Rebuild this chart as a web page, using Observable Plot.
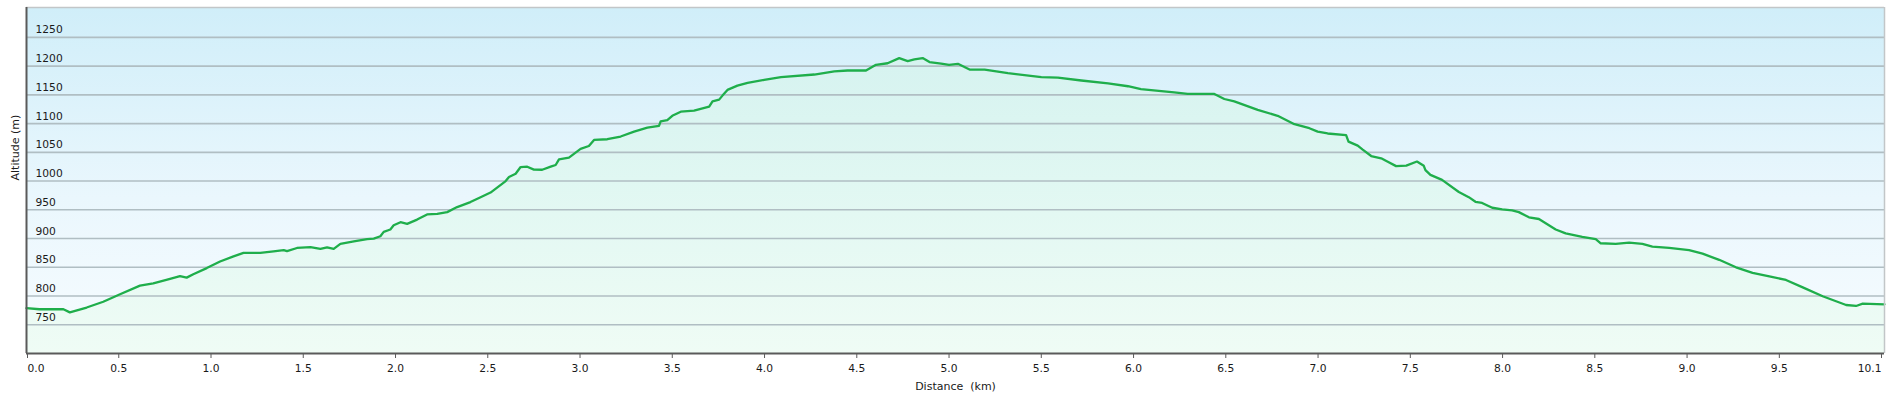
<!DOCTYPE html>
<html>
<head>
<meta charset="utf-8">
<script src="https://cdn.jsdelivr.net/npm/d3@7"></script>
<script src="https://cdn.jsdelivr.net/npm/@observablehq/plot@0.6"></script>
<style>
  html, body { margin: 0; padding: 0; background: #fff; }
  svg { display: block; background: linear-gradient(#f4f4f4 0 3px, #ffffff 3px); }
  svg text { white-space: pre; }
</style>
</head>
<body>
<div id="chart"></div>
<script>
const distanceKm = [
  0.0, 0.07, 0.2, 0.235, 0.326, 0.416, 0.507, 0.615, 0.687, 0.778, 0.832, 0.868, 0.904, 0.977,
  1.049, 1.122, 1.176, 1.267, 1.339, 1.394, 1.412, 1.466, 1.539, 1.593, 1.629, 1.665, 1.701,
  1.774, 1.846, 1.882, 1.918, 1.936, 1.972, 1.99, 2.027, 2.063, 2.117, 2.171, 2.226, 2.28,
  2.334, 2.406, 2.461, 2.515, 2.597, 2.615, 2.651, 2.678, 2.714, 2.75, 2.795, 2.841, 2.868,
  2.886, 2.94, 3.003, 3.048, 3.076, 3.148, 3.22, 3.293, 3.365, 3.428, 3.437, 3.473, 3.5,
  3.546, 3.618, 3.7, 3.718, 3.754, 3.772, 3.799, 3.853, 3.908, 3.998, 4.089, 4.27, 4.378,
  4.45, 4.55, 4.604, 4.667, 4.73, 4.776, 4.812, 4.857, 4.894, 4.957, 5.0, 5.048, 5.111,
  5.193, 5.319, 5.5, 5.59, 5.717, 5.862, 5.97, 6.04, 6.22, 6.293, 6.438, 6.492, 6.546,
  6.673, 6.781, 6.872, 6.953, 6.998, 7.052, 7.152, 7.165, 7.215, 7.242, 7.288, 7.342,
  7.378, 7.423, 7.478, 7.536, 7.573, 7.582, 7.609, 7.672, 7.763, 7.817, 7.853, 7.889,
  7.944, 7.998, 8.052, 8.088, 8.143, 8.197, 8.288, 8.342, 8.432, 8.505, 8.532, 8.613,
  8.686, 8.758, 8.812, 8.903, 9.011, 9.084, 9.174, 9.265, 9.355, 9.446, 9.536, 9.627,
  9.735, 9.862, 9.916, 9.952, 10.07
];
const altitudeM = [
  779, 777, 777, 771.6, 780, 790, 803, 818, 822, 830, 834.6, 832, 838, 848.6,
  860, 869, 875, 875, 877.8, 880, 878, 883.6, 885, 882, 884.8, 882, 890.6,
  895, 899, 900, 904, 911.6, 915.7, 923, 928.5, 925.6, 933, 942, 943, 946,
  954.8, 963.5, 972, 980, 1000, 1007, 1012.7, 1024.4, 1025, 1020, 1019.7, 1025, 1028,
  1037.8, 1040.7, 1056, 1061, 1071.6, 1072.8, 1077.5, 1086, 1093, 1096, 1104, 1106, 1113.6,
  1120.7, 1122.4, 1129.4, 1138.7, 1141.7, 1148.7, 1158.6, 1166, 1170.8, 1176, 1180.7, 1185.4, 1190.7,
  1192.4, 1192.4, 1202.3, 1205, 1214, 1208.8, 1211.7, 1214, 1207, 1204.5, 1202, 1204, 1194,
  1194, 1188, 1180.7, 1180, 1175, 1170, 1165, 1160, 1154.5, 1151.6, 1151.6, 1142.8, 1138.7,
  1124, 1113.6, 1099, 1092, 1086, 1082.8, 1080, 1068.7, 1061.7, 1054.7, 1043.6, 1039.6,
  1033.7, 1026, 1027, 1034, 1026.5, 1019, 1010.8, 1002, 981, 972, 964, 962,
  953.6, 950.7, 949, 946, 937, 934, 915.7, 909, 903, 899, 891.8, 890.6,
  893, 890.6, 886, 883.6, 880, 873.7, 863, 850, 840.4, 834, 828, 815,
  799.6, 784.4, 782.7, 786.8, 785.6
];
const yTicks = [750, 800, 850, 900, 950, 1000, 1050, 1100, 1150, 1200, 1250];
const xTicksMid = [0.5, 1.0, 1.5, 2.0, 2.5, 3.0, 3.5, 4.0, 4.5, 5.0, 5.5, 6.0, 6.5, 7.0, 7.5, 8.0, 8.5, 9.0, 9.5];
const xTickStart = [0.0];
const xTickEnd = [10.07];
const xLabel = "Distance  (km)";
const yLabel = "Altitude (m)";

const profile = distanceKm.map((d, i) => ({d, a: altitudeM[i]}));
const fmt = d => d.toFixed(1);
const font = "DejaVu Sans, Verdana, sans-serif";
const axisColor = "#5a5a5a";

const chart = Plot.plot({
  width: 1889,
  height: 395,
  marginTop: 7,
  marginBottom: 42,
  marginLeft: 26,
  marginRight: 5,
  style: {fontFamily: font, fontSize: "10.7px", color: "#1a1a1a", background: "transparent", overflow: "visible"},
  x: {domain: [0, 10.07], axis: null},
  y: {domain: [700, 1302], axis: null},
  marks: [
    Plot.frame({fill: "url(#bgGrad)", stroke: null}),
    Plot.areaY(profile, {x: "d", y1: 700, y2: "a", fill: "url(#areaGrad)"}),
    Plot.ruleY(yTicks, {stroke: "#b0bec3", strokeWidth: 1.6}),
    Plot.text(yTicks, {y: d => d, text: d => String(d), frameAnchor: "left", textAnchor: "start", lineAnchor: "bottom", dx: 9, dy: -4, fill: "#1a1a1a"}),
    Plot.lineY(profile, {x: "d", y: "a", stroke: "#1fae4b", strokeWidth: 2.3, strokeLinejoin: "round"}),
    Plot.ruleY([1302], {stroke: "#c2c6c8", strokeWidth: 1.5}),
    Plot.ruleX([10.07], {stroke: "#c2c6c8", strokeWidth: 1.5}),
    Plot.ruleX([0], {stroke: axisColor, strokeWidth: 2}),
    Plot.ruleY([700], {stroke: axisColor, strokeWidth: 2}),
    Plot.axisX({ticks: xTicksMid, tickFormat: fmt, tickSize: 5, tickPadding: 6, stroke: axisColor, fill: "#1a1a1a", label: null}),
    Plot.axisX({ticks: xTickStart, tickFormat: fmt, tickSize: 5, tickPadding: 6, stroke: axisColor, fill: "#1a1a1a", textAnchor: "start", dx: 1, label: null}),
    Plot.axisX({ticks: xTickEnd, tickFormat: fmt, tickSize: 5, tickPadding: 6, stroke: axisColor, fill: "#1a1a1a", textAnchor: "end", dx: -3, label: null}),
    Plot.text([xLabel], {frameAnchor: "bottom", dy: 32.5, lineAnchor: "middle", fill: "#1a1a1a", fontSize: 11}),
    Plot.text([yLabel], {frameAnchor: "left", rotate: -90, dx: -11, lineAnchor: "middle", fill: "#1a1a1a", fontSize: 11})
  ]
});

const ns = "http://www.w3.org/2000/svg";
const defs = document.createElementNS(ns, "defs");
defs.innerHTML = `<linearGradient id="bgGrad" x1="0" y1="0" x2="0" y2="1">
  <stop offset="0" stop-color="#d0eef9"/>
  <stop offset="0.55" stop-color="#eaf7fd"/>
  <stop offset="1" stop-color="#f7fcff"/>
</linearGradient>
<linearGradient id="areaGrad" gradientUnits="userSpaceOnUse" x1="0" y1="7" x2="0" y2="353">
  <stop offset="0" stop-color="#d2f1ef"/>
  <stop offset="0.5" stop-color="#e0f7f2"/>
  <stop offset="1" stop-color="#effcf5"/>
</linearGradient>`;
chart.insertBefore(defs, chart.firstChild);
document.getElementById("chart").appendChild(chart);
</script>
</body>
</html>
